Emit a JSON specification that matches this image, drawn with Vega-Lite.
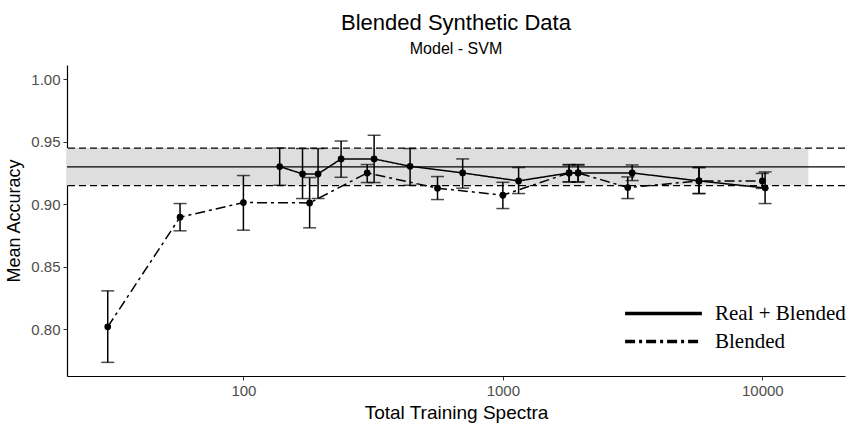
{
  "$schema": "https://vega.github.io/schema/vega-lite/v6.json",
  "width": 778,
  "height": 311,
  "autosize": {"type": "none"},
  "padding": {"left": 67, "top": 65, "right": 4, "bottom": 51},
  "background": "white",
  "title": {
    "text": "Blended Synthetic Data",
    "subtitle": "Model - SVM",
    "anchor": "middle",
    "font": "Liberation Sans",
    "subtitleFont": "Liberation Sans",
    "fontSize": 22,
    "subtitleFontSize": 16,
    "fontWeight": "normal",
    "color": "black",
    "subtitleColor": "black",
    "offset": 7,
    "subtitlePadding": 6
  },
  "config": {
    "view": {"stroke": null},
    "axis": {
      "grid": false,
      "domainColor": "black",
      "domainWidth": 1.2,
      "tickColor": "#333333",
      "tickSize": 4,
      "labelColor": "#4d4d4d",
      "labelFont": "Liberation Sans",
      "labelFontSize": 15,
      "titleFont": "Liberation Sans",
      "titleFontSize": 19,
      "titleFontWeight": "normal",
      "titleColor": "black"
    }
  },
  "datasets": {
    "pts": [
      {"series": "Blended", "n": 30, "acc": 0.802, "lo": 0.7736, "hi": 0.8308},
      {"series": "Blended", "n": 57, "acc": 0.8897, "lo": 0.8788, "hi": 0.9006},
      {"series": "Blended", "n": 100, "acc": 0.9014, "lo": 0.8793, "hi": 0.923},
      {"series": "Blended", "n": 180, "acc": 0.9011, "lo": 0.8812, "hi": 0.9214},
      {"series": "Blended", "n": 300, "acc": 0.9251, "lo": 0.9174, "hi": 0.9318},
      {"series": "Blended", "n": 560, "acc": 0.9129, "lo": 0.9038, "hi": 0.9222},
      {"series": "Blended", "n": 1000, "acc": 0.9073, "lo": 0.8966, "hi": 0.9176},
      {"series": "Blended", "n": 1800, "acc": 0.9251, "lo": 0.9179, "hi": 0.9315},
      {"series": "Blended", "n": 1950, "acc": 0.9251, "lo": 0.9179, "hi": 0.9315},
      {"series": "Blended", "n": 3030, "acc": 0.9134, "lo": 0.9046, "hi": 0.9219},
      {"series": "Blended", "n": 5700, "acc": 0.9187, "lo": 0.9086, "hi": 0.9294},
      {"series": "Blended", "n": 10000, "acc": 0.9187, "lo": 0.9127, "hi": 0.9247},
      {"series": "Real + Blended", "n": 138, "acc": 0.9302, "lo": 0.9152, "hi": 0.945},
      {"series": "Real + Blended", "n": 169, "acc": 0.9243, "lo": 0.9046, "hi": 0.9446},
      {"series": "Real + Blended", "n": 194, "acc": 0.9243, "lo": 0.9046, "hi": 0.9446},
      {"series": "Real + Blended", "n": 238, "acc": 0.9363, "lo": 0.9216, "hi": 0.9506},
      {"series": "Real + Blended", "n": 319, "acc": 0.9363, "lo": 0.9174, "hi": 0.9552},
      {"series": "Real + Blended", "n": 439, "acc": 0.9304, "lo": 0.9152, "hi": 0.9446},
      {"series": "Real + Blended", "n": 700, "acc": 0.9251, "lo": 0.9129, "hi": 0.9363},
      {"series": "Real + Blended", "n": 1150, "acc": 0.9187, "lo": 0.9086, "hi": 0.9294},
      {"series": "Real + Blended", "n": 1800, "acc": 0.9251, "lo": 0.9179, "hi": 0.9318},
      {"series": "Real + Blended", "n": 1950, "acc": 0.9251, "lo": 0.9179, "hi": 0.9318},
      {"series": "Real + Blended", "n": 3150, "acc": 0.9251, "lo": 0.919, "hi": 0.9315},
      {"series": "Real + Blended", "n": 5700, "acc": 0.9187, "lo": 0.9086, "hi": 0.9294},
      {"series": "Real + Blended", "n": 10250, "acc": 0.9131, "lo": 0.9006, "hi": 0.9259}
    ],
    "band": [
      {"x0": 10, "x1": 15040, "lo": 0.915, "hi": 0.945}
    ],
    "refs": [
      {"y": 0.93, "kind": "mean"},
      {"y": 0.945, "kind": "bound"},
      {"y": 0.915, "kind": "bound"}
    ]
  },
  "layer": [
    {
      "data": {"name": "band"},
      "mark": {"type": "rect", "color": "#dedede", "clip": true},
      "encoding": {
        "x": {
          "field": "x0",
          "type": "quantitative",
          "scale": {"type": "log", "domain": [20.9, 20830], "nice": false},
          "axis": {"values": [100, 1000, 10000], "format": "d", "title": "Total Training Spectra", "titlePadding": 5, "labelPadding": 3}
        },
        "x2": {"field": "x1"},
        "y": {
          "field": "lo",
          "type": "quantitative",
          "scale": {"domain": [0.7627, 1.0114], "nice": false, "zero": false},
          "axis": {"values": [0.8, 0.85, 0.9, 0.95, 1.0], "format": ".2f", "title": "Mean Accuracy", "titlePadding": 7, "labelPadding": 3, "titleFontSize": 18}
        },
        "y2": {"field": "hi"}
      }
    },
    {
      "data": {"name": "refs"},
      "transform": [{"filter": "datum.kind == 'mean'"}],
      "mark": {"type": "rule", "color": "black", "strokeWidth": 1.2},
      "encoding": {"y": {"field": "y", "type": "quantitative"}}
    },
    {
      "data": {"name": "refs"},
      "transform": [{"filter": "datum.kind == 'bound'"}],
      "mark": {"type": "rule", "color": "black", "strokeWidth": 1.2, "strokeDash": [7, 4]},
      "encoding": {"y": {"field": "y", "type": "quantitative"}}
    },
    {
      "data": {"name": "pts"},
      "mark": {"type": "rule", "color": "black", "strokeWidth": 1.5},
      "encoding": {
        "x": {"field": "n", "type": "quantitative"},
        "y": {"field": "lo", "type": "quantitative"},
        "y2": {"field": "hi"}
      }
    },
    {
      "data": {"name": "pts"},
      "mark": {"type": "tick", "orient": "horizontal", "size": 13, "thickness": 1.5, "color": "black"},
      "encoding": {
        "x": {"field": "n", "type": "quantitative"},
        "y": {"field": "lo", "type": "quantitative"}
      }
    },
    {
      "data": {"name": "pts"},
      "mark": {"type": "tick", "orient": "horizontal", "size": 13, "thickness": 1.5, "color": "black"},
      "encoding": {
        "x": {"field": "n", "type": "quantitative"},
        "y": {"field": "hi", "type": "quantitative"}
      }
    },
    {
      "data": {"name": "pts"},
      "mark": {"type": "line", "color": "black", "strokeWidth": 1.5},
      "encoding": {
        "x": {"field": "n", "type": "quantitative"},
        "y": {"field": "acc", "type": "quantitative"},
        "strokeDash": {
          "field": "series",
          "type": "nominal",
          "scale": {"domain": ["Real + Blended", "Blended"], "range": [[1, 0], [10, 4, 3, 4]]},
          "legend": {
            "title": null,
            "orient": "none",
            "legendX": 586,
            "legendY": 238,
            "symbolType": "M-5,0H5",
            "symbolSize": 236,
            "symbolStrokeWidth": 3.5,
            "symbolStrokeColor": "black",
            "labelFont": "Liberation Serif",
            "labelFontSize": 21,
            "labelColor": "black",
            "labelOffset": 41,
            "rowPadding": 6
          }
        }
      }
    },
    {
      "data": {"name": "pts"},
      "mark": {"type": "circle", "color": "black", "opacity": 1, "size": 45},
      "encoding": {
        "x": {"field": "n", "type": "quantitative"},
        "y": {"field": "acc", "type": "quantitative"}
      }
    }
  ]
}
